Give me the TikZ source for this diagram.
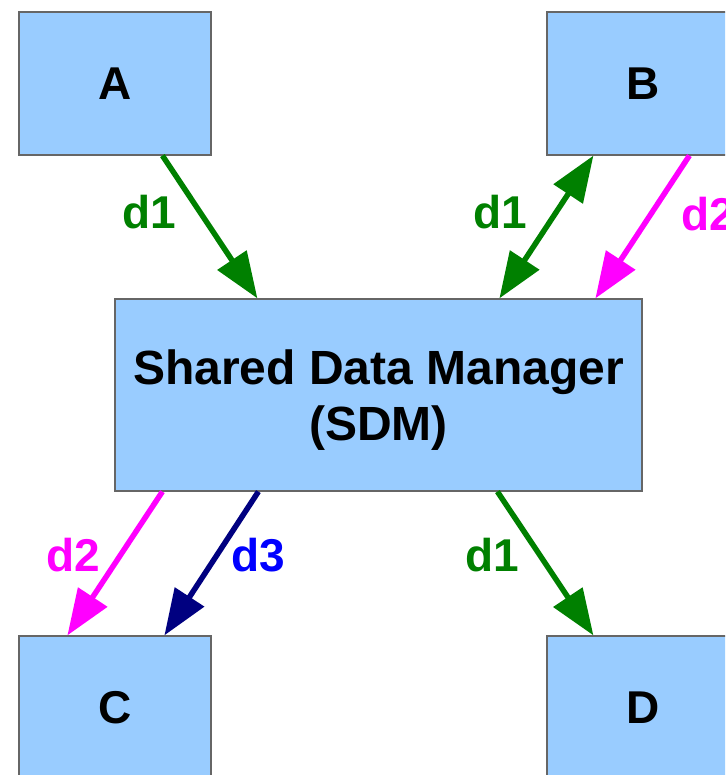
\documentclass[tikz,border=0pt]{standalone}
\usepackage{fontspec}
\setmainfont{Liberation Sans}
\usetikzlibrary{arrows.meta,calc}
\definecolor{boxfill}{HTML}{99CCFF}
\definecolor{boxline}{HTML}{666666}
\definecolor{dgreen}{HTML}{008000}
\definecolor{dmag}{HTML}{FF00FF}
\definecolor{dnavy}{HTML}{000080}
\definecolor{dblue}{HTML}{0000FF}
\begin{document}
\begin{tikzpicture}[x=1pt,y=-1pt,
  box/.style={draw=boxline,line width=1.2pt,fill=boxfill,inner sep=0pt,
    font=\bfseries\fontsize{46}{53}\selectfont,align=center},
  conn/.style={line width=5.5pt,-{Triangle[length=46pt,width=34pt]}},
  biconn/.style={line width=5.5pt,{Triangle[length=46pt,width=34pt]}-{Triangle[length=46pt,width=34pt]}},
  lbl/.style={font=\bfseries\fontsize{46}{53}\selectfont,inner sep=0pt}]
\useasboundingbox (0,0) rectangle (725,775);
\clip (0,0) rectangle (725,775);
\fill[white] (0,0) rectangle (725,775);
\node[box,minimum width=192pt,minimum height=143pt] (A) at (115,83.5) {A};
\node[box,minimum width=192pt,minimum height=143pt] (B) at (643,83.5) {B};
\node[box,minimum width=527pt,minimum height=192pt] (S) at (378.5,395) {};
\node[font=\bfseries\fontsize{48}{56}\selectfont,align=center,inner sep=0pt] (St) at (378.5,400) {Shared Data Manager\\(SDM)};
\node[box,minimum width=192pt,minimum height=143pt] (C) at (115,707.5) {C};
\node[box,minimum width=192pt,minimum height=143pt] (D) at (643,707.5) {D};
% connectors
\draw[conn,dgreen] ([xshift=144pt]A.south west) -- ([xshift=143pt]S.north west);
\draw[biconn,dgreen] ([xshift=385pt]S.north west) -- ([xshift=47pt]B.south west);
\draw[conn,dmag] ([xshift=143pt]B.south west) -- ([xshift=481pt]S.north west);
\draw[conn,dmag] ([xshift=48pt]S.south west) -- ([xshift=49pt]C.north west);
\draw[conn,dnavy] ([xshift=144pt]S.south west) -- ([xshift=146pt]C.north west);
\draw[conn,dgreen] ([xshift=383pt]S.south west) -- ([xshift=47pt]D.north west);
% labels
\node[lbl,text=dgreen] (l1) at (149,212) {d1};
\node[lbl,text=dgreen] (l2) at (500,212) {d1};
\node[lbl,text=dmag] (l3) at (708,214) {d2};
\node[lbl,text=dmag] (l4) at (73,555) {d2};
\node[lbl,text=dblue] (l5) at (258,555) {d3};
\node[lbl,text=dgreen] (l6) at (492,555) {d1};
\end{tikzpicture}
\end{document}
